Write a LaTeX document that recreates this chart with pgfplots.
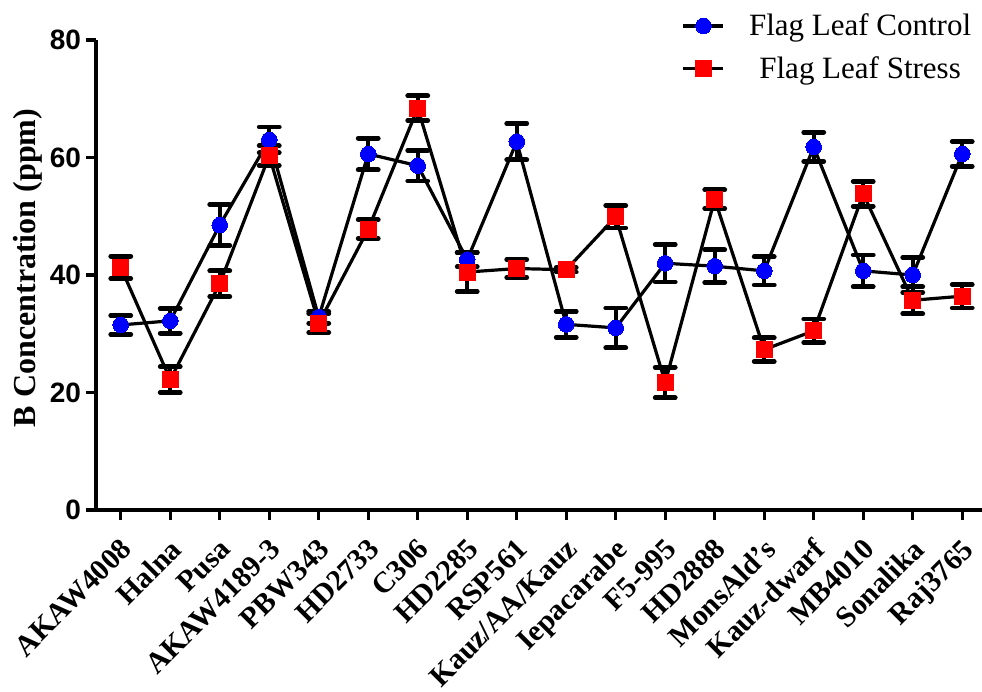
\documentclass[border=0pt]{standalone}
\usepackage{pgfplots}
\pgfplotsset{compat=1.18}
\usepackage{pgfplotstable}
\usepackage{fontspec}
\setmainfont{Liberation Serif}
\newfontfamily\arialfont{Liberation Sans}

\pgfplotstableread{
x y e
0 31.5 1.6
1 32.2 2.1
2 48.5 3.5
3 63.0 2.2
4 32.8 1.0
5 60.6 2.7
6 58.6 2.6
7 42.6 1.2
8 62.7 3.1
9 31.6 2.2
10 31.0 3.4
11 42.0 3.2
12 41.5 2.8
13 40.7 2.4
14 61.8 2.5
15 40.7 2.7
16 40.0 3.0
17 60.6 2.1
}\control

\pgfplotstableread{
x y e
0 41.3 1.9
1 22.2 2.2
2 38.5 2.2
3 60.3 1.7
4 31.8 1.6
5 47.8 1.6
6 68.4 2.1
7 40.5 3.3
8 41.1 1.5
9 40.9 0.4
10 49.9 1.9
11 21.7 2.6
12 52.9 1.6
13 27.3 2.0
14 30.5 2.0
15 53.8 2.1
16 35.7 2.3
17 36.4 2.0
}\stress

\begin{document}
\begin{tikzpicture}
\begin{axis}[
  name=ax,
  scale only axis,
  width=443pt, height=235pt,
  xmin=-0.5, xmax=17.4,
  ymin=0, ymax=80,
  ytick={0,20,40,60,80},
  xtick={0,...,17},
  xticklabels={AKAW4008,Halna,Pusa,AKAW4189-3,PBW343,HD2733,C306,HD2285,RSP561,Kauz/AA/Kauz,Iepacarabe,F5-995,HD2888,MonsAld’s,Kauz-dwarf,MB4010,Sonalika,Raj3765},
  axis x line*=bottom, axis y line*=left,
  axis line style={line width=2pt},
  tick align=outside,
  major tick length=5pt,
  every tick/.style={black, line width=1.6pt},
  /pgf/number format/assume math mode=true,
  yticklabel style={font=\arialfont\bfseries\fontsize{14}{14}\selectfont, xshift=1pt},
  xticklabel style={font=\bfseries\fontsize{14.8}{14.8}\selectfont, rotate=45, anchor=north east, inner sep=1pt, xshift=-5.4pt, yshift=-4.3pt},
  ylabel={B Concentration (ppm)},
  ylabel style={font=\bfseries\fontsize{16}{16}\selectfont, at={(axis description cs:-0.077,0.515)}, anchor=center},
  clip=false,
  legend style={draw=none, fill=none, font=\fontsize{15.5}{15.5}\selectfont, at={(0.995,1.07)}, anchor=north east, row sep=5pt, inner sep=1pt,
    /tikz/every odd column/.append style={column sep=10pt}},
  legend cell align=center,
  legend image code/.code={\draw[mark repeat=2,mark phase=2] plot coordinates {(0pt,0pt) (10pt,0pt) (20pt,0pt)};},
]
\addplot[black, line width=1.6pt, mark=*, mark size=3.9pt, mark options={draw=blue, fill=blue, line width=0pt},
  error bars/.cd, y dir=both, y explicit,
  error bar style={line width=1.8pt, black},
  error mark options={rotate=90, mark size=5pt, line width=2.4pt, black, line cap=round}]
  table[x=x, y=y, y error=e] {\control};
\addlegendentry{Flag Leaf Control}
\addplot[black, line width=1.6pt, mark=square*, mark size=4pt, mark options={draw=red, fill=red, line width=0pt},
  error bars/.cd, y dir=both, y explicit,
  error bar style={line width=1.8pt, black},
  error mark options={rotate=90, mark size=5pt, line width=2.4pt, black, line cap=round}]
  table[x=x, y=y, y error=e] {\stress};
\addlegendentry{Flag Leaf Stress}
\end{axis}
\pgfresetboundingbox
\path[use as bounding box] ([xshift=-48pt,yshift=-90.5pt]ax.south west) rectangle ([yshift=20pt]ax.north east);
\end{tikzpicture}
\end{document}
